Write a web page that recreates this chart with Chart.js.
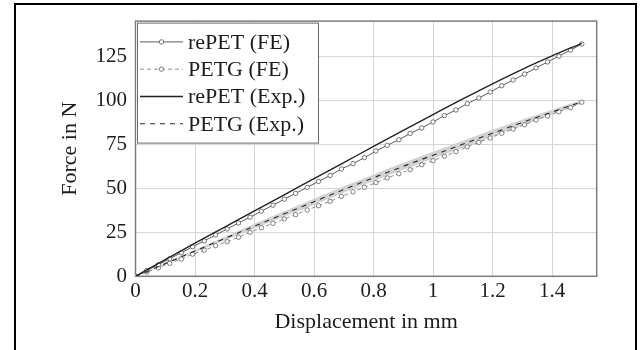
<!DOCTYPE html>
<html>
<head>
<meta charset="utf-8">
<script src="https://cdn.jsdelivr.net/npm/chart.js@4.4.1/dist/chart.umd.min.js"></script>
<style>
html, body { margin:0; padding:0; background:#fff; width:643px; height:350px; overflow:hidden; }
#bingkai { position:absolute; left:14px; top:3px; width:619px; height:400px; border:2px solid #000; border-bottom:none; pointer-events:none; }
canvas { position:absolute; left:0; top:0; }
</style>
</head>
<body>
<canvas id="c" width="643" height="350"></canvas>
<div id="bingkai"></div>
<script>
// FE: 40 nodes, Exp: every 0.1 mm
const xFE = [0, 0.038, 0.077, 0.115, 0.154, 0.192, 0.231, 0.269, 0.308, 0.346, 0.385, 0.423, 0.462, 0.5, 0.538, 0.577, 0.615, 0.654, 0.692, 0.731,
	0.769, 0.808, 0.846, 0.885, 0.923, 0.962, 1.0, 1.038, 1.077, 1.115, 1.154, 1.192, 1.231, 1.269, 1.308, 1.346, 1.385, 1.423, 1.462, 1.5]
const repetFE = [0, 3.3, 6.6, 10.0, 13.4, 16.8, 20.1, 23.5, 26.9, 30.3, 33.6, 37.0, 40.4, 43.8, 47.1, 50.5, 53.9, 57.3, 61.0, 64.0,
	67.4, 71.2, 74.4, 77.6, 81.2, 84.3, 87.7, 91.3, 94.5, 98.1, 101.3, 104.7, 108.3, 111.5, 114.9, 118.4, 121.8, 125.1, 128.5, 132.0]
const petgFE = [0, 2.4, 4.8, 7.4, 9.8, 12.6, 14.8, 17.4, 19.7, 22.2, 25.0, 27.6, 30.1, 32.6, 35.0, 37.7, 40.1, 42.6, 45.4, 48.0,
	50.6, 53.2, 55.9, 58.3, 60.6, 63.4, 65.7, 68.2, 70.8, 73.6, 76.1, 78.6, 81.3, 83.7, 86.1, 88.8, 91.1, 93.5, 95.8, 98.9]

const xExp = [0, 0.1, 0.2, 0.3, 0.4, 0.5, 0.6, 0.7, 0.8, 0.9, 1.0, 1.1, 1.2, 1.3, 1.4, 1.5]
const repetExp = [0, 9.5, 18.8, 28.0, 37.2, 46.3, 55.5, 64.6, 73.8, 82.9, 91.9, 100.8, 109.4, 117.6, 125.2, 132.4]
const petgExp = [0, 7.2, 14.4, 21.5, 28.5, 35.5, 42.4, 49.3, 56.0, 62.5, 68.8, 75.0, 81.3, 87.4, 93.3, 99.2]
const petgExpMax = [0, 7.6, 15.1, 22.5, 29.8, 37.0, 44.1, 51.1, 57.9, 64.5, 70.8, 77.0, 83.2, 89.1, 94.7, 100.2]
const petgExpMin = [0, 6.8, 13.7, 20.5, 27.2, 34.0, 40.7, 47.5, 54.1, 60.5, 66.8, 73.0, 79.4, 85.7, 91.9, 98.2]

const xTicks = [0, 0.2, 0.4, 0.6, 0.8, 1, 1.2, 1.4]
const xTickLabels = ['0', '0.2', '0.4', '0.6', '0.8', '1', '1.2', '1.4']
const yTicks = [0, 25, 50, 75, 100, 125]
const yTickLabels = ['0', '25', '50', '75', '100', '125']

const pts = (xs, ys) => xs.map((a, b) => ({ x: a, y: ys[b] }))
const serif = '"Liberation Serif", "Times New Roman", serif'
const teks = '#1c1c1c'

const bingkai = {
	id: 'bingkai',
	beforeDatasetsDraw: c => {
		const { ctx, chartArea: a } = c
		ctx.save()
		ctx.strokeStyle = '#7c7c7c'
		ctx.lineWidth = 1.5
		ctx.strokeRect(a.left, a.top, a.right - a.left, a.bottom - a.top)
		ctx.restore()
	},
	afterDatasetsDraw: c => {
		const { ctx, chartArea: a } = c
		const l = a.left, t = a.top
		ctx.save()
		ctx.fillStyle = '#fff'
		ctx.fillRect(l + 1, t + 1, 182.5, 121.5)
		ctx.strokeStyle = '#6a6a6a'
		ctx.lineWidth = 1
		ctx.strokeRect(l + 2, t + 2, 181, 120)
		c.data.datasets.slice(0, 4).forEach((d, i) => {
			const y = t + 20.8 + i * 27.3
			ctx.strokeStyle = d.borderColor
			ctx.lineWidth = d.borderWidth
			ctx.setLineDash(d.borderDash || [])
			ctx.beginPath(); ctx.moveTo(l + 4.5, y); ctx.lineTo(l + 47.5, y); ctx.stroke()
			ctx.setLineDash([])
			if (d.pointRadius > 0) {
				ctx.beginPath(); ctx.arc(l + 26, y, d.pointRadius, 0, Math.PI * 2)
				ctx.fillStyle = '#fff'; ctx.fill()
				ctx.strokeStyle = d.pointBorderColor; ctx.lineWidth = d.pointBorderWidth; ctx.stroke()
			}
			ctx.fillStyle = teks
			ctx.font = '22px ' + serif
			ctx.textBaseline = 'middle'
			ctx.fillText(d.label, l + 52.5, y + 1)
		})
		ctx.restore()
	}
}

new Chart(document.getElementById('c'), {
	type: 'line',
	data: {
		datasets: [
			{ label: 'rePET (FE)', data: pts(xFE, repetFE), borderColor: '#4a4a4a', borderWidth: 0.9, pointRadius: 2.2,
				pointBackgroundColor: '#fff', pointBorderColor: '#555', pointBorderWidth: 0.8, order: 3 },
			{ label: 'PETG (FE)', data: pts(xFE, petgFE), borderColor: '#808080', borderWidth: 0.9, borderDash: [4, 3], pointRadius: 2.2,
				pointBackgroundColor: '#fff', pointBorderColor: '#626262', pointBorderWidth: 0.8, order: 4 },
			{ label: 'rePET (Exp.)', data: pts(xExp, repetExp), borderColor: '#222', borderWidth: 1.4, pointRadius: 0,
				cubicInterpolationMode: 'monotone', order: 1 },
			{ label: 'PETG (Exp.)', data: pts(xExp, petgExp), borderColor: '#2a2a2a', borderWidth: 1.1, borderDash: [5, 5], pointRadius: 0,
				cubicInterpolationMode: 'monotone', order: 2 },
			{ label: 'band', data: pts(xExp, petgExpMax), borderWidth: 0, pointRadius: 0, fill: '+1', backgroundColor: '#d2d2d2',
				cubicInterpolationMode: 'monotone', order: 9 },
			{ label: 'band', data: pts(xExp, petgExpMin), borderWidth: 0, pointRadius: 0, fill: false,
				cubicInterpolationMode: 'monotone', order: 10 },
		]
	},
	options: {
		responsive: false,
		animation: false,
		devicePixelRatio: 1,
		layout: { padding: { top: 20.7, right: 46.3, bottom: 0, left: 0 } },
		plugins: { legend: { display: false }, tooltip: { enabled: false } },
		elements: { line: { tension: 0 } },
		scales: {
			x: {
				type: 'linear', min: 0, max: 1.55,
				afterBuildTicks: s => { s.ticks = xTicks.map(a => ({ value: a })) },
				afterFit: s => { s.height = 73.7 },
				border: { display: false },
				grid: { color: '#d6d6d6', lineWidth: 1, drawTicks: false },
				ticks: { autoSkip: false, maxRotation: 0, padding: 3, color: teks, font: { family: serif, size: 21 },
					callback: v => xTickLabels[xTicks.indexOf(v)] },
				title: { display: true, text: 'Displacement in mm', color: teks, font: { family: serif, size: 22 }, padding: { top: 0, bottom: 15 } }
			},
			y: {
				type: 'linear', min: 0, max: 145,
				afterBuildTicks: s => { s.ticks = yTicks.map(a => ({ value: a })) },
				afterFit: s => { s.width = 135.5 },
				border: { display: false },
				grid: { color: '#d6d6d6', lineWidth: 1, drawTicks: false },
				ticks: { autoSkip: false, padding: 8.5, color: teks, font: { family: serif, size: 21 },
					callback: v => yTickLabels[yTicks.indexOf(v)] },
				title: { display: true, text: 'Force in N', color: teks, font: { family: serif, size: 22 }, padding: { top: 57, bottom: 0 } }
			}
		}
	},
	plugins: [bingkai]
})
</script>
</body>
</html>
